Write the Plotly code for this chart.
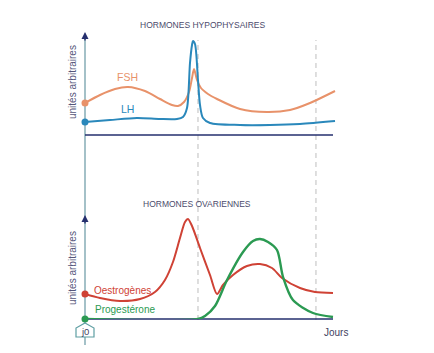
import plotly.graph_objects as go

# ---- data (days, arbitrary units) ----
fsh_days = [0, 1.86, 3.72, 5.33, 7.43, 9.29, 10.78, 11.52, 12.27, 12.89, 13.26, 13.51, 13.88, 14.37, 15.24, 16.36, 19.21, 22.55, 25.4, 27.88, 30.98]
fsh_vals = [3.2, 4.0, 4.6, 4.8, 4.4, 3.6, 3.0, 2.9, 3.3, 4.3, 5.7, 6.6, 5.5, 4.7, 4.1, 3.6, 2.6, 2.3, 2.5, 3.2, 4.4]

lh_days = [0, 3.1, 6.44, 9.29, 11.4, 12.14, 12.64, 13.01, 13.26, 13.38, 13.63, 14.0, 14.25, 14.62, 15.49, 19.21, 22.92, 26.64, 30.98]
lh_vals = [1.3, 1.5, 1.7, 1.6, 1.6, 1.8, 2.7, 7.2, 9.0, 9.4, 9.1, 5.5, 3.0, 1.7, 1.2, 1.0, 1.0, 1.1, 1.4]

oes_days = [0, 1.86, 4.34, 6.82, 8.67, 9.91, 10.9, 11.77, 12.39, 12.76, 13.26, 14.25, 15.49, 16.36, 17.1, 18.34, 20.07, 21.68, 23.17, 24.41, 26.64, 28.5, 30.73]
oes_vals = [2.5, 2.1, 1.8, 2.0, 2.7, 3.9, 5.7, 8.1, 9.7, 10.0, 9.3, 7.1, 4.4, 2.5, 3.4, 4.4, 5.3, 5.5, 5.1, 4.1, 3.1, 2.7, 2.6]

pro_days = [0, 14.0, 14.87, 16.11, 17.6, 19.58, 20.82, 21.68, 22.68, 23.79, 24.54, 25.77, 28.25, 30.73]
pro_vals = [0, 0, 0.3, 1.3, 3.9, 6.7, 7.8, 8.0, 7.7, 6.9, 4.2, 1.9, 0.6, 0.2]

marker_days = [14.0, 28.62]
titles = ["HORMONES HYPOPHYSAIRES", "HORMONES OVARIENNES"]
ylabel = "unités arbitraires"

# ---- styling ----
C_FSH = "#e8926a"
C_LH = "#2a88bb"
C_OES = "#cf4235"
C_PRO = "#2b9a52"
NAVY = "#252f6e"
TEAL = "#86acb6"
TXT = "#4b4b6b"

W, H = 434, 353
L, R, T, B = 85, 97, 35, 34
PW, PH = W - L - R, H - T - B
PPD = 8.07  # px per day
XMAX = PW / PPD


def pxd(px):
    return (px - L) / PPD


def pxp(px):
    return (px - L) / PW


def pyp(py):
    return (H - B - py) / PH


fig = go.Figure()

def add_line(x, y, color, yaxis, width=2):
    fig.add_trace(go.Scatter(x=x, y=y, mode="lines", yaxis=yaxis,
                             line=dict(color=color, width=width, shape="spline", smoothing=0.8),
                             hoverinfo="skip", showlegend=False, cliponaxis=False))
    fig.add_trace(go.Scatter(x=[x[0]], y=[y[0]], mode="markers", yaxis=yaxis,
                             marker=dict(color=color, size=7), hoverinfo="skip",
                             showlegend=False, cliponaxis=False))

shapes = []
# dashed vertical markers
for d in marker_days:
    shapes.append(dict(type="line", xref="x", yref="paper", x0=d, x1=d,
                       y0=pyp(320), y1=pyp(40),
                       line=dict(color="#c9c9c9", width=1.2, dash="5px,4px"), layer="below"))
# y-axis vertical teal line
shapes.append(dict(type="line", xref="paper", yref="paper", x0=0, x1=0, y0=pyp(345), y1=pyp(38),
                   line=dict(color=TEAL, width=1.5), layer="below"))
# x axes
for py in (135, 319):
    shapes.append(dict(type="line", xref="x", yref="paper", x0=0, x1=pxd(333),
                       y0=pyp(py), y1=pyp(py), line=dict(color=NAVY, width=1.3), layer="below"))
# j0 tag (paper coords)
pts = [(85, 323), (94, 328), (94, 337), (76, 337), (76, 328)]
path = "M " + " L ".join(f"{pxp(a):.5f},{pyp(b):.5f}" for a, b in pts) + " Z"
shapes.append(dict(type="path", xref="paper", yref="paper", path=path,
                   line=dict(color="#5e9ea2", width=1.2), fillcolor="white", layer="above"))

add_line(fsh_days, fsh_vals, C_FSH, "y")
add_line(lh_days, lh_vals, C_LH, "y")
add_line(oes_days, oes_vals, C_OES, "y2")
add_line(pro_days, pro_vals, C_PRO, "y2", width=2.4)

ann = []
FONT = "Liberation Sans, Arial, sans-serif"
# arrowheads
for py in (135, 319):
    ann.append(dict(xref="x", yref="paper", x=pxd(338), y=pyp(py), ax=-10, ay=0,
                    showarrow=True, arrowhead=2, arrowsize=1, arrowwidth=1.4, arrowcolor=NAVY, text=""))
for py in (32, 215):
    ann.append(dict(xref="x", yref="paper", x=0, y=pyp(py), ax=0, ay=10,
                    showarrow=True, arrowhead=2, arrowsize=1, arrowwidth=1.4, arrowcolor=NAVY, text=""))

def txt(s, px, py, color, size, angle=0):
    ann.append(dict(xref="paper", yref="paper", x=pxp(px), y=pyp(py), text=s, showarrow=False,
                    font=dict(color=color, size=size, family=FONT), textangle=angle,
                    xanchor="center", yanchor="middle"))

txt(titles[0], 202, 25, TXT, 8.5)
txt(titles[1], 197, 204, TXT, 8.5)
txt(ylabel, 72, 82, "#55557a", 10, -90)
txt(ylabel, 72, 268, "#55557a", 10, -90)
txt("FSH", 127, 77, C_FSH, 10.5)
txt("LH", 127, 109, C_LH, 10.5)
txt("Oestrogènes", 122, 290, C_OES, 10)
txt("Progestérone", 125, 309, C_PRO, 10)
txt("Jours", 336, 332, "#3f3f5f", 10)
txt("j0", 85, 331.5, "#3f3f5f", 9.5)

fig.update_layout(
    width=W, height=H, margin=dict(l=L, r=R, t=T, b=B),
    paper_bgcolor="white", plot_bgcolor="white",
    xaxis=dict(range=[0, XMAX], visible=False, fixedrange=True),
    yaxis=dict(domain=[pyp(135), 1], range=[0, 10], visible=False),
    yaxis2=dict(domain=[0, pyp(217)], range=[0, 10.2], visible=False),
    shapes=shapes, annotations=ann, showlegend=False,
)

fig.write_html("out.html", config={"displayModeBar": False})
